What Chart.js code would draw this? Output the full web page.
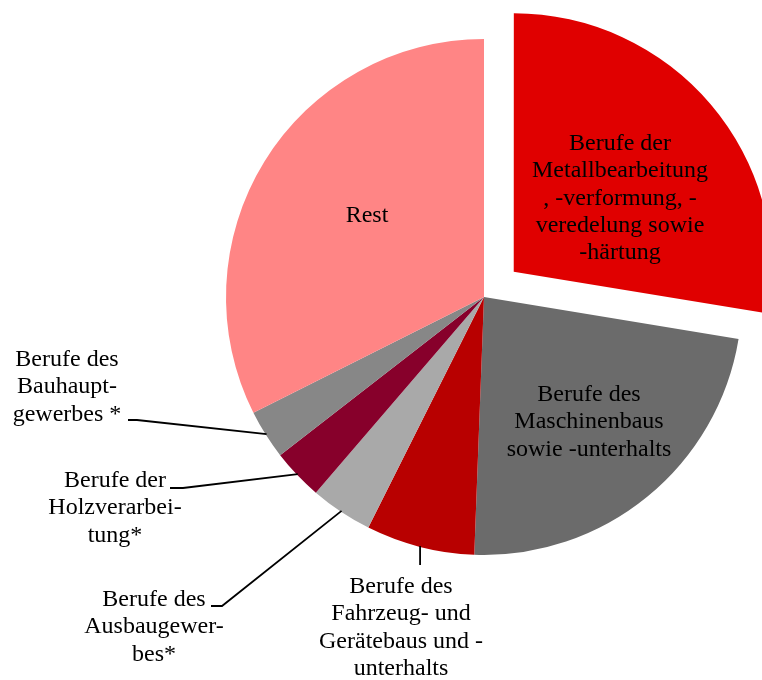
<!DOCTYPE html>
<html>
<head>
<meta charset="utf-8">
<script src="https://cdn.jsdelivr.net/npm/chart.js@4"></script>
<style>
  body { margin: 0; background: #fff; }
  #wrap { width: 762px; height: 680px; }
</style>
</head>
<body>
<div id="wrap"><canvas id="berufeChart" width="762" height="680"></canvas></div>
<script>
// Berufsgruppen (Zeilen wie im Original umbrochen)
const categories = [
  ['Berufe der', 'Metallbearbeitung', ', -verformung, -', 'veredelung sowie', '-härtung'],
  ['Berufe des', 'Maschinenbaus', 'sowie -unterhalts'],
  ['Berufe des', 'Fahrzeug- und', 'Gerätebaus und -', 'unterhalts'],
  ['Berufe des', 'Ausbaugewer-', 'bes*'],
  ['Berufe der', 'Holzverarbei-', 'tung*'],
  ['Berufe des', 'Bauhaupt-', 'gewerbes *'],
  ['Rest']
];
// Anteile in Prozent, aus dem Bild geschätzt
const shares = [27.6, 23.0, 6.8, 3.9, 3.2, 3.1, 32.4];
const sliceColors = ['#e00000', '#6b6b6b', '#b80000', '#a9a9a9', '#87002b', '#878787', '#ff8585'];
const sliceOffsets = [156, 0, 0, 0, 0, 0, 0];

// Position der Beschriftungen: x = Mitte, y = erste Grundlinie, knee/end = Führungslinie
// knee[0] = null -> senkrecht nach unten
const labelPlace = [
  { x: 620, y: 150 },
  { x: 589, y: 401 },
  { x: 401, y: 593, knee: [null, 565] },
  { x: 154, y: 606, knee: [222, 606], end: [211, 606] },
  { x: 115, y: 487, knee: [183, 488], end: [170, 488] },
  { x: 67, y: 366, knee: [137, 420], end: [128, 420] },
  { x: 367, y: 222 }
];
const LINE_HEIGHT = 27.3;

const sliceLabels = {
  id: 'sliceLabels',
  afterDatasetsDraw(chart) {
    const ctx = chart.ctx;
    const arcs = chart.getDatasetMeta(0).data;
    ctx.save();
    ctx.font = '24px "Liberation Serif", "Times New Roman", serif';
    ctx.fillStyle = '#000';
    ctx.textAlign = 'center';
    ctx.textBaseline = 'alphabetic';
    ctx.strokeStyle = '#000';
    ctx.lineWidth = 1.8;

    arcs.forEach((arc, i) => {
      const place = labelPlace[i];
      if (place.knee) {
        const mid = (arc.startAngle + arc.endAngle) / 2;
        const r = arc.outerRadius - 1;
        const sx = arc.x + Math.cos(mid) * r;
        const sy = arc.y + Math.sin(mid) * r;
        const kx = place.knee[0] === null ? sx : place.knee[0];
        ctx.beginPath();
        ctx.moveTo(sx, sy);
        ctx.lineTo(kx, place.knee[1]);
        if (place.end) ctx.lineTo(place.end[0], place.end[1]);
        ctx.stroke();
      }
      categories[i].forEach((line, k) => {
        ctx.fillText(line, place.x, place.y + k * LINE_HEIGHT);
      });
    });
    ctx.restore();
  }
};

const ctx = document.getElementById('berufeChart').getContext('2d');
new Chart(ctx, {
  type: 'pie',
  data: {
    labels: categories,
    datasets: [{
      data: shares,
      backgroundColor: sliceColors,
      borderWidth: 0,
      offset: sliceOffsets,
      clip: false
    }]
  },
  options: {
    responsive: false,
    animation: false,
    radius: 258,
    layout: { padding: { left: 226, right: 20, top: 39, bottom: 125 } },
    plugins: {
      legend: { display: false },
      tooltip: { enabled: false }
    }
  },
  plugins: [sliceLabels]
});
</script>
</body>
</html>
